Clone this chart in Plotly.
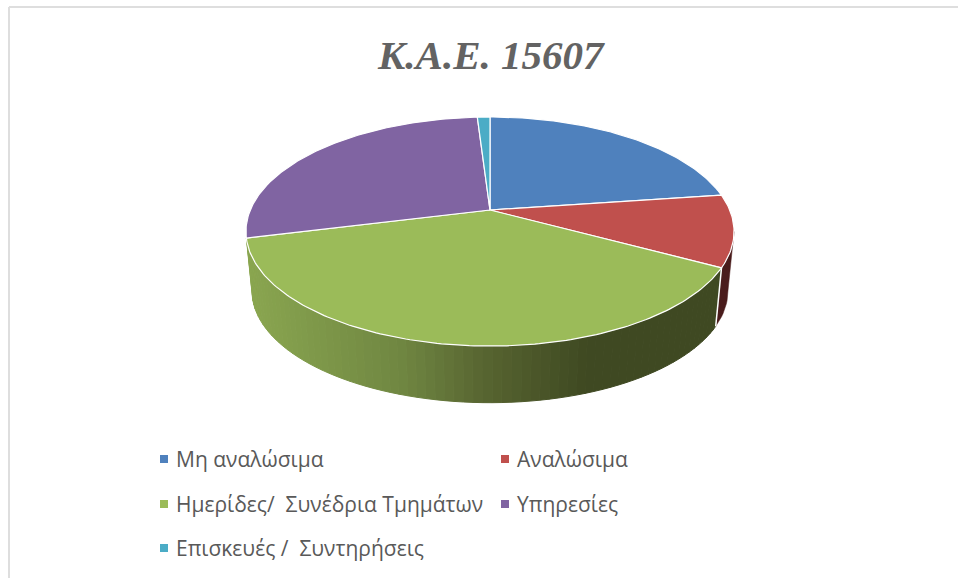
import numpy as np
import plotly.graph_objects as go

title = "Κ.Α.Ε. 15607"
categories = ["Μη αναλώσιμα", "Αναλώσιμα", "Ημερίδες/  Συνέδρια Τμημάτων", "Υπηρεσίες", "Επισκευές /  Συντηρήσεις"]
values = [22.8, 10.1, 38.2, 27.9, 1.0]
top_colors = ["#4F81BD", "#C0504D", "#9BBB59", "#8064A2", "#4BACC6"]
wall_stops_x = [248, 400, 490, 590, 730]
wall_stops_rgb = [(138, 166, 80), (112, 135, 66), (86, 99, 48), (63, 73, 34), (63, 73, 34)]
red_wall = "#4A1C1C"

CX, CY = 490, 210
A, B, K = 239.7, 110.5, 0.188
DEPTH, SCALE = 60, 0.975


def project(a, s=1.0, dy=0.0):
    w = 1 + K * np.cos(a)
    return CX + s * A * np.sin(a) / w, CY + dy - s * B * np.cos(a) / w


fig = go.Figure()
edges = np.radians(np.cumsum([0] + values) / sum(values) * 360)


def add_poly(x, y, fill, line, width):
    fig.add_trace(go.Scatter(x=list(x), y=list(y), mode="lines", fill="toself", fillcolor=fill,
                             line=dict(color=line, width=width), hoverinfo="skip", showlegend=False))


# side walls: red then green, sliced by angle for the shading
tangent = np.arccos(-K)
red_a = np.linspace(tangent, edges[2], 12)
x1, y1 = project(red_a)
x2, y2 = project(red_a[::-1], SCALE, DEPTH)
add_poly(np.r_[x1, x2, x1[0]], np.r_[y1, y2, y1[0]], red_wall, red_wall, 0.5)

seg_edges = np.linspace(edges[2], edges[3], 73)
for a0, a1 in zip(seg_edges[:-1], seg_edges[1:]):
    arc = np.linspace(a0, a1, 3)
    x1, y1 = project(arc)
    x2, y2 = project(arc[::-1], SCALE, DEPTH)
    mx = x1.mean()
    rgb = [np.interp(mx, wall_stops_x, [c[i] for c in wall_stops_rgb]) for i in range(3)]
    col = "rgb(%d,%d,%d)" % tuple(rgb)
    add_poly(np.r_[x1, x2, x1[0]], np.r_[y1, y2, y1[0]], col, col, 1)

# white seam between the red and green walls
sx, sy = project(np.array([edges[2], edges[2]]), np.array([1.0, SCALE]), np.array([0.0, DEPTH]))
fig.add_trace(go.Scatter(x=sx, y=sy, mode="lines", line=dict(color="white", width=1.5),
                         hoverinfo="skip", showlegend=False))

# top face
for i, col in enumerate(top_colors):
    n = max(4, int(values[i] * 4))
    arc = np.linspace(edges[i], edges[i + 1], n)
    x, y = project(arc)
    add_poly(np.r_[CX, x, CX], np.r_[CY, y, CY], col, "white", 1.2)

# legend
legend_col_x = [164, 505, 164, 505, 164]
legend_row_y = [459, 459, 504, 504, 548]
fig.add_trace(go.Scatter(x=legend_col_x, y=legend_row_y, mode="markers",
                         marker=dict(symbol="square", size=8, color=top_colors, line=dict(width=0)),
                         hoverinfo="skip", showlegend=False))
for name, lx, ly in zip(categories, legend_col_x, legend_row_y):
    fig.add_annotation(x=lx + 10, y=ly, text=name, showarrow=False, xanchor="left", yanchor="middle",
                       font=dict(family="Open Sans", size=21, color="#595959"))

fig.add_annotation(x=491, y=55, text=title, showarrow=False, xanchor="center", yanchor="middle",
                   font=dict(family="Liberation Serif", size=41, color="#636363", style="italic", weight="bold"))

# chart frame: only the top and left edges show
fig.add_shape(type="line", x0=9, x1=958, y0=7, y1=7, line=dict(color="#DEDEDE", width=2))
fig.add_shape(type="line", x0=9, x1=9, y0=7, y1=578, line=dict(color="#DEDEDE", width=2))

fig.update_layout(width=958, height=578, margin=dict(l=0, r=0, t=0, b=0), paper_bgcolor="white",
                  plot_bgcolor="white", showlegend=False,
                  xaxis=dict(range=[0, 958], visible=False, fixedrange=True),
                  yaxis=dict(range=[578, 0], visible=False, fixedrange=True))
fig.write_html("out.html", config={"displayModeBar": False},
               post_script="document.body.style.margin='0';document.documentElement.style.overflow='hidden';")
